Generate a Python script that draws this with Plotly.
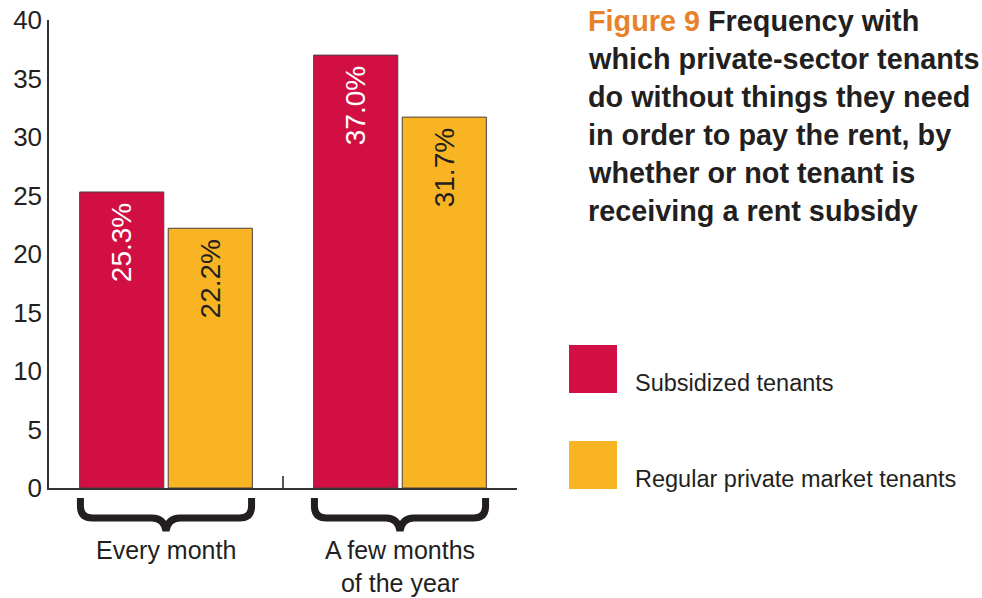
import plotly.graph_objects as go

# ---------------- data ----------------
categories = ["Every month", "A few months<br>of the year"]
series_names = ["Subsidized tenants", "Regular private market tenants"]
subsidized = [25.3, 37.0]
regular = [22.2, 31.7]
y_ticks = [0, 5, 10, 15, 20, 25, 30, 35, 40]
title_lines = [
    "<span style='color:#E8822A'>Figure 9</span> Frequency with",
    "which private-sector tenants",
    "do without things they need",
    "in order to pay the rent, by",
    "whether or not tenant is",
    "receiving a rent subsidy",
]

# ---------------- style / layout ----------------
W, H = 982, 598
L, R, T, B = 49, 465, 20, 110
PW, PH = W - L - R, H - T - B
DARK = "#231F20"
RED = "#D10F43"
YELLOW = "#F9B424"
FONT = "Liberation Sans, Arial, sans-serif"
BARGAP = 0.243


def px_x(px):
    return (px - L) / PW


def px_y(py):
    return (H - B - py) / PH


xs = list(range(len(categories)))

fig = go.Figure()
for vals, name, col, tcol in [
    (subsidized, series_names[0], RED, "white"),
    (regular, series_names[1], YELLOW, DARK),
]:
    fig.add_trace(
        go.Bar(
            x=xs,
            y=vals,
            name=name,
            marker=dict(color=col, line=dict(color="#4a4040", width=1)),
            texttemplate="%{y:.1f}%\u00a0",
            textposition="inside",
            insidetextanchor="end",
            textangle=-90,
            textfont=dict(family=FONT, size=28, color=tcol),
            showlegend=False,
        )
    )

shapes = []
annotations = []

# braces under each category group
unit_x = 1.0 / (PW / 2.0)  # data units per pixel (range spans 2 units)
hw = (1 - BARGAP) / 2 - 3 * unit_x
rx = 12 * unit_x
ry = 12 / PH
y_top = px_y(498)
y_bar = px_y(518)
y_tip = px_y(531)
for c in xs:
    x0, x1 = c - hw, c + hw
    path = (
        f"M {x0},{y_top} L {x0},{y_bar + ry} Q {x0},{y_bar} {x0 + rx},{y_bar} "
        f"L {c - 14 * unit_x},{y_bar} Q {c - 2 * unit_x},{y_bar} {c},{y_tip} "
        f"Q {c + 2 * unit_x},{y_bar} {c + 14 * unit_x},{y_bar} "
        f"L {x1 - rx},{y_bar} Q {x1},{y_bar} {x1},{y_bar + ry} L {x1},{y_top}"
    )
    shapes.append(
        dict(type="path", xref="x", yref="paper", path=path,
             line=dict(color=DARK, width=7))
    )
    annotations.append(
        dict(x=c, y=px_y(534), xref="x", yref="paper", text=categories[c],
             showarrow=False, xanchor="center", yanchor="top",
             font=dict(family=FONT, size=25, color=DARK))
    )

# manual legend
for i, (name, col) in enumerate(zip(series_names, [RED, YELLOW])):
    top = 345 + 96 * i
    shapes.append(
        dict(type="rect", xref="paper", yref="paper",
             x0=px_x(569), x1=px_x(617), y0=px_y(top + 48), y1=px_y(top),
             fillcolor=col, line=dict(width=0))
    )
    annotations.append(
        dict(x=px_x(633), y=px_y(top + 38), xref="paper", yref="paper", text=name,
             showarrow=False, xanchor="left", yanchor="middle",
             font=dict(family=FONT, size=23.5, color=DARK))
    )

# title lines
for i, line in enumerate(title_lines):
    annotations.append(
        dict(x=px_x(586), y=px_y(21 + 38 * i), xref="paper", yref="paper", text=f"<b>{line}</b>",
             showarrow=False, xanchor="left", yanchor="middle",
             font=dict(family=FONT, size=28.8, color=DARK))
    )

fig.update_layout(
    width=W,
    height=H,
    margin=dict(l=L, r=R, t=T, b=B, pad=0, autoexpand=False),
    paper_bgcolor="white",
    plot_bgcolor="white",
    barmode="group",
    bargap=BARGAP,
    bargroupgap=0.05,
    shapes=shapes,
    annotations=annotations,
    xaxis=dict(
        range=[-0.5, len(categories) - 0.5],
        tickvals=[i - 0.5 for i in range(len(categories) + 1)],
        showticklabels=False,
        ticks="inside",
        ticklen=12,
        tickwidth=1.5,
        tickcolor="#555555",
        showline=True,
        linecolor="#333333",
        linewidth=1.5,
        showgrid=False,
        zeroline=False,
        fixedrange=True,
        automargin=False,
    ),
    yaxis=dict(
        range=[0, 40],
        tickvals=y_ticks,
        ticks="",
        ticklabelstandoff=0,
        tickfont=dict(family=FONT, size=26, color=DARK),
        showline=True,
        linecolor="#333333",
        linewidth=1.5,
        showgrid=False,
        zeroline=False,
        fixedrange=True,
        automargin=False,
    ),
)

fig.write_html(
    "out.html",
    config={"displayModeBar": False},
    post_script="document.body.style.margin='0';document.body.style.overflow='hidden';",
)
